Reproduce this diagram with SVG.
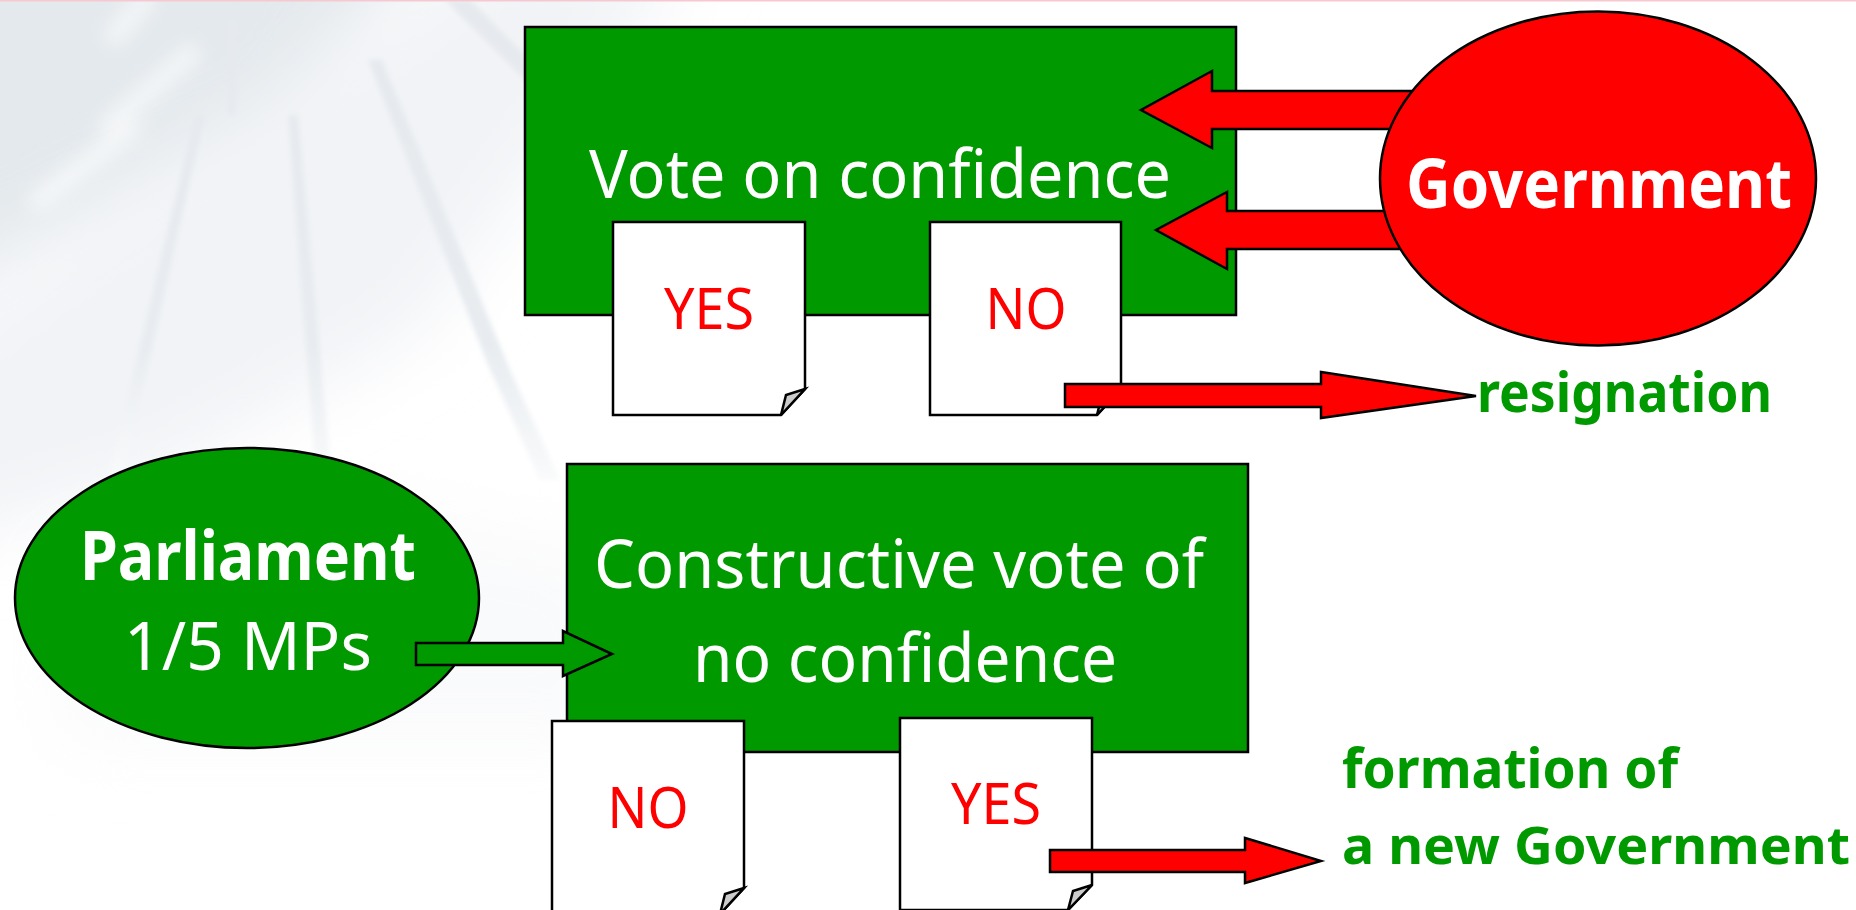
<svg xmlns="http://www.w3.org/2000/svg" width="1856" height="910" viewBox="0 0 1856 910">
<style>
.o{stroke:#000;stroke-width:2.5;stroke-linejoin:miter}
.g{fill:#009900}.r{fill:#ff0000}.w{fill:#fff}
text{font-family:"Noto Sans","Open Sans","Liberation Sans",sans-serif}
.big{font-size:68px;fill:#fff;text-anchor:middle}
.b{font-weight:700}
.lab{font-size:56px;fill:#ff0000;text-anchor:middle}
.gt{font-size:55px;fill:#009900;font-weight:700}
.ray{fill:url(#rayfade)}
</style>
<defs>
<filter id="b3" x="-50%" y="-20%" width="200%" height="140%"><feGaussianBlur stdDeviation="2.500"/></filter>
<filter id="b8" x="-50%" y="-50%" width="200%" height="200%"><feGaussianBlur stdDeviation="9"/></filter>
<filter id="b20" x="-60%" y="-60%" width="220%" height="220%"><feGaussianBlur stdDeviation="38"/></filter>
<linearGradient id="rayfade" gradientUnits="userSpaceOnUse" x1="0" y1="100" x2="0" y2="480"><stop offset="0" stop-color="#e6eaee"/><stop offset=".65" stop-color="#e8ecf0"/><stop offset="1" stop-color="#f9fafb"/></linearGradient>
</defs>
<g id="background">
<rect width="1856" height="910" fill="#fff"/>
<path d="M-120 -120H470L300 130L-120 330Z" fill="#e4e9ed" filter="url(#b20)"/>
<path d="M-120 380L220 130L500 -60L700 -60L420 330L150 480L-120 560Z" fill="#f1f3f6" filter="url(#b20)"/>
<path d="M60 560L300 500L620 560L620 740L60 740Z" fill="#f7f8fa" opacity=".7" filter="url(#b20)"/>
<g filter="url(#b3)">
<path class="ray" d="M195 115L205 115L122 480L108 480Z"/>
<path class="ray" d="M288 115L298 115L332 480L316 480Z"/>
<path class="ray" d="M368 60L382 60L510 370L560 480L540 480L490 370Z"/>
<path class="ray" d="M228 20L238 20L235 115L229 115Z"/>
<path class="ray" d="M445 0L470 0L530 60V85Z"/>
</g>
<path d="M145 0L115 35M190 55L110 125M130 130L40 200" stroke="#fff" stroke-width="22" stroke-linecap="round" opacity=".55" fill="none" filter="url(#b8)"/>
<rect width="1856" height="1.5" fill="#f8c8d0"/>
</g>
<g id="node-vote-confidence">
<rect class="o g" x="525" y="27" width="711" height="288"/>
<text class="big" x="880" y="198" textLength="582" lengthAdjust="spacingAndGlyphs">Vote on confidence</text>
</g>
<g id="node-yes-1">
<path class="o w" d="M613 222H805V389L781 415H613Z"/>
<path class="o" fill="#ccc" d="M805 389L786 395L781 415Z"/>
<text class="lab" x="709" y="329" textLength="90" lengthAdjust="spacingAndGlyphs">YES</text>
</g>
<g id="node-no-1">
<path class="o w" d="M930 222H1121V389L1097 415H930Z"/>
<path class="o" fill="#ccc" d="M1121 389L1102 395L1097 415Z"/>
<text class="lab" x="1026" y="329" textLength="81" lengthAdjust="spacingAndGlyphs">NO</text>
</g>
<g id="node-constructive">
<rect class="o g" x="567" y="464" width="681" height="288"/>
<text class="big" x="899" y="588" textLength="610" lengthAdjust="spacingAndGlyphs">Constructive vote of</text>
<text class="big" x="905" y="682" textLength="424" lengthAdjust="spacingAndGlyphs">no confidence</text>
</g>
<g id="node-no-2">
<path class="o w" d="M552 721H744V888L720 914H552Z"/>
<path class="o" fill="#ccc" d="M744 888L725 894L720 914Z"/>
<text class="lab" x="648" y="828" textLength="81" lengthAdjust="spacingAndGlyphs">NO</text>
</g>
<g id="node-yes-2">
<path class="o w" d="M900 718H1092V885L1068 910H900Z"/>
<path class="o" fill="#ccc" d="M1092 885L1073 891L1068 910Z"/>
<text class="lab" x="996" y="824" textLength="90" lengthAdjust="spacingAndGlyphs">YES</text>
</g>
<g id="node-parliament">
<ellipse class="o g" cx="247" cy="598" rx="232" ry="150"/>
<text class="big b" x="248" y="580" textLength="336" lengthAdjust="spacingAndGlyphs">Parliament</text>
<text class="big" x="248" y="670" textLength="248" lengthAdjust="spacingAndGlyphs">1/5 MPs</text>
</g>
<g id="connectors">
<path class="o r" d="M1440 91H1212V71L1141 110L1212 148V129H1440Z"/>
<path class="o r" d="M1440 211H1227V192L1156 230L1227 269V249H1440Z"/>
<path class="o r" d="M1065 384H1321V372L1476 396L1321 418V407H1065Z"/>
<path class="o g" d="M416 643H563V631L612 654L563 676V665H416Z"/>
<path class="o r" d="M1050 850H1245V838L1321 861L1245 883V872H1050Z"/>
</g>
<g id="node-government">
<ellipse class="o r" cx="1598" cy="178.500" rx="218" ry="167"/>
<text class="big b" x="1599" y="208" textLength="386" lengthAdjust="spacingAndGlyphs">Government</text>
</g>
<g id="label-resignation"><text class="gt" x="1477" y="412" textLength="295" lengthAdjust="spacingAndGlyphs">resignation</text></g>
<g id="label-formation">
<text class="gt" x="1342" y="788" textLength="336" lengthAdjust="spacingAndGlyphs">formation of</text>
<text class="gt" style="font-size:52px" x="1342" y="864" textLength="508" lengthAdjust="spacingAndGlyphs">a new Government</text>
</g>
</svg>
